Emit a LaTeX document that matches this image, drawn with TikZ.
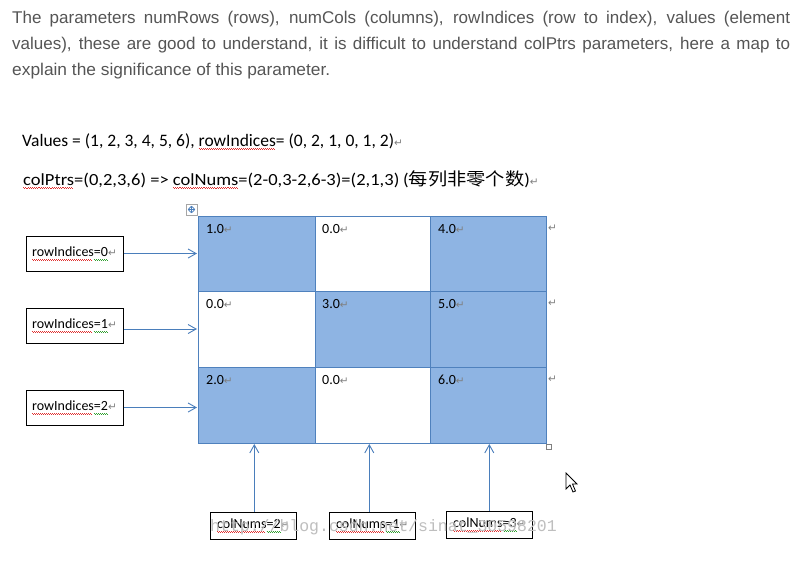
\documentclass[tikz,border=0pt]{standalone}
\usepackage{fontspec}
\setmainfont{Carlito}
\newfontfamily\parafont{Liberation Sans}
\newfontfamily\cjkfont{Noto Sans CJK SC}
\newfontfamily\symfont{DejaVu Sans}
\newfontfamily\wmfont{Liberation Mono}
\usetikzlibrary{arrows.meta}
\definecolor{cellblue}{HTML}{8EB4E3}
\definecolor{gridline}{HTML}{4F81BD}
\definecolor{arrowblue}{HTML}{4A7EBB}
\definecolor{paragray}{HTML}{555555}
\definecolor{wavered}{HTML}{E03030}
\definecolor{wavegreen}{HTML}{30A030}
\definecolor{markgray}{HTML}{808080}
\definecolor{wmgray}{HTML}{BEBEBE}
\newcommand\spellwave[2]{\setbox0\hbox{#2}\rlap{\textcolor{#1}{\leaders\hbox to 2pt{\vrule height -2.3pt depth 3pt width 1pt\vrule height -3pt depth 3.7pt width 1pt}\hskip\wd0}}\box0}
\newcommand\pmark{{\symfont\fontsize{10.5}{10.5}\selectfont\textcolor{markgray}{↵}}}
\tikzset{
  para/.style={anchor=base west, inner sep=0pt, text=paragray, font=\parafont\fontsize{17}{17}\selectfont},
  formula/.style={anchor=base west, inner sep=0pt, font=\fontsize{17.5}{17.5}\selectfont},
  cellbox/.style={draw=gridline, line width=1pt, anchor=north west, minimum width=#1, minimum height=75.5pt, inner sep=0pt},
  celltext/.style={anchor=base west, inner sep=0pt, font=\fontsize{14}{14}\selectfont},
  labelbox/.style={draw=black, line width=1pt, fill=white, inner sep=0pt, font=\fontsize{14}{14}\selectfont},
  arr/.style={draw=arrowblue, line width=1pt, -{Straight Barb[length=8pt,width=9pt,line width=0.9pt]}},
  rowmark/.style={anchor=west, inner sep=0pt}
}
\begin{document}
\begin{tikzpicture}[x=1pt,y=-1pt]
\useasboundingbox (0,0) rectangle (808,581);
\fill[white] (0,0) rectangle (808,581);

% paragraph
\node[para] (p1) at (12,23) {\hbox to 778pt{\spaceskip=0.22em plus 1fil minus 0.05em\relax The parameters numRows (rows), numCols (columns), rowIndices (row to index), values (element}};
\node[para] (p2) at (12,49) {\hbox to 778pt{\spaceskip=0.22em plus 1fil minus 0.05em\relax values), these are good to understand, it is difficult to understand colPtrs parameters, here a map to}};
\node[para] (p3) at (12,75) {\scalebox{1.02}[1]{explain the significance of this parameter.}};

% formulas
\node[formula] (v1) at (22,146) {Values = (1, 2, 3, 4, 5, 6), \spellwave{wavered}{rowIndices} = (0, 2, 1, 0, 1, 2)\pmark};
\node[formula, font=\fontsize{17}{17}\selectfont] (v2) at (23,185) {\scalebox{1.09}[1]{\spellwave{wavered}{colPtrs}=(0,2,3,6) => \spellwave{wavered}{colNums}=(2-0,3-2,6-3)=(2,1,3)} \scalebox{1.08}[1]{(}\scalebox{1.1}[1]{\cjkfont\fontsize{17.5}{17.5}\selectfont 每列非零个数}\scalebox{1.08}[1]{)}\pmark};

% grid cells
\node[cellbox=117pt, fill=cellblue] (c00) at (198,216) {};
\node[cellbox=115pt, fill=white]    (c01) at (315,216) {};
\node[cellbox=116pt, fill=cellblue] (c02) at (430,216) {};
\node[cellbox=117pt, fill=white]    (c10) at (198,291) {};
\node[cellbox=115pt, fill=cellblue] (c11) at (315,291) {};
\node[cellbox=116pt, fill=cellblue] (c12) at (430,291) {};
\node[cellbox=117pt, fill=cellblue] (c20) at (198,367) {};
\node[cellbox=115pt, fill=white]    (c21) at (315,367) {};
\node[cellbox=116pt, fill=cellblue] (c22) at (430,367) {};

\node[celltext] (t00) at (206,233) {1.0\pmark};
\node[celltext] (t01) at (322,233) {0.0\pmark};
\node[celltext] (t02) at (438,233) {4.0\pmark};
\node[celltext] (t10) at (206,308) {0.0\pmark};
\node[celltext] (t11) at (322,308) {3.0\pmark};
\node[celltext] (t12) at (438,308) {5.0\pmark};
\node[celltext] (t20) at (206,384) {2.0\pmark};
\node[celltext] (t21) at (322,384) {0.0\pmark};
\node[celltext] (t22) at (438,384) {6.0\pmark};

\node[rowmark] (m0) at (548,228) {\pmark};
\node[rowmark] (m1) at (548,303) {\pmark};
\node[rowmark] (m2) at (548,379) {\pmark};

% table move handle
\draw[gray!70, line width=0.8pt, fill=white] (186,204) rectangle (197,215);
\draw[arrowblue, line width=0.8pt, {Straight Barb[length=1.5pt,width=3.5pt]}-{Straight Barb[length=1.5pt,width=3.5pt]}] (187.8,209.5) -- (195.2,209.5);
\draw[arrowblue, line width=0.8pt, {Straight Barb[length=1.5pt,width=3.5pt]}-{Straight Barb[length=1.5pt,width=3.5pt]}] (191.5,205.8) -- (191.5,213.2);
% resize handle
\draw[gray, line width=0.8pt, fill=white] (546.5,444.5) rectangle (551.5,449.5);

% row label boxes
\node[labelbox, minimum width=97pt, minimum height=35pt] (r0) at (74.5,253.5) {\spellwave{wavered}{rowIndices}\spellwave{wavegreen}{=0}\pmark};
\node[labelbox, minimum width=97pt, minimum height=35pt] (r1) at (74.5,325.5) {\spellwave{wavered}{rowIndices}\spellwave{wavegreen}{=1}\pmark};
\node[labelbox, minimum width=97pt, minimum height=35pt] (r2) at (74.5,407.5) {\spellwave{wavered}{rowIndices}\spellwave{wavegreen}{=2}\pmark};

\draw[arr] (r0.east) -- ([xshift=-1pt]r0.east -| c00.west);
\draw[arr] ([yshift=-3.5pt]r1.east) -- ([xshift=-1pt,yshift=-3.5pt]r1.east -| c10.west);
\draw[arr] (r2.east) -- ([xshift=-1pt]r2.east -| c20.west);

% column label boxes
\node[labelbox, minimum width=86pt, minimum height=27pt] (b0) at (253.3,525.6) {\spellwave{wavered}{colNums}\spellwave{wavegreen}{=2}\pmark};
\node[labelbox, minimum width=86pt, minimum height=27pt] (b1) at (372.3,525.6) {\spellwave{wavered}{colNums}\spellwave{wavegreen}{=1}\pmark};
\node[labelbox, minimum width=86pt, minimum height=27pt] (b2) at (489.3,524.5) {\spellwave{wavered}{colNums}\spellwave{wavegreen}{=3}\pmark};
\coordinate (gb) at (0,444);
\draw[arr] ([xshift=1pt]b0.north) -- ([xshift=1pt]b0.north |- gb);
\draw[arr] ([xshift=-3pt]b1.north) -- ([xshift=-3pt]b1.north |- gb);
\draw[arr] (b2.north) -- (b2.north |- gb);

% mouse cursor
\draw[black, fill=white, line width=0.8pt, line join=miter, shift={(566,473)}]
  (0,0) -- (0,16) -- (4,12) -- (7,19) -- (9.5,18) -- (6.5,11) -- (11,11) -- cycle;

% watermark
\node[anchor=base west, inner sep=0pt, text=wmgray, font=\wmfont\fontsize{16.5}{16.5}\selectfont] (wm) at (210,531) {http://blog.csdn.net/sinat\_30598201};
\end{tikzpicture}
\end{document}
